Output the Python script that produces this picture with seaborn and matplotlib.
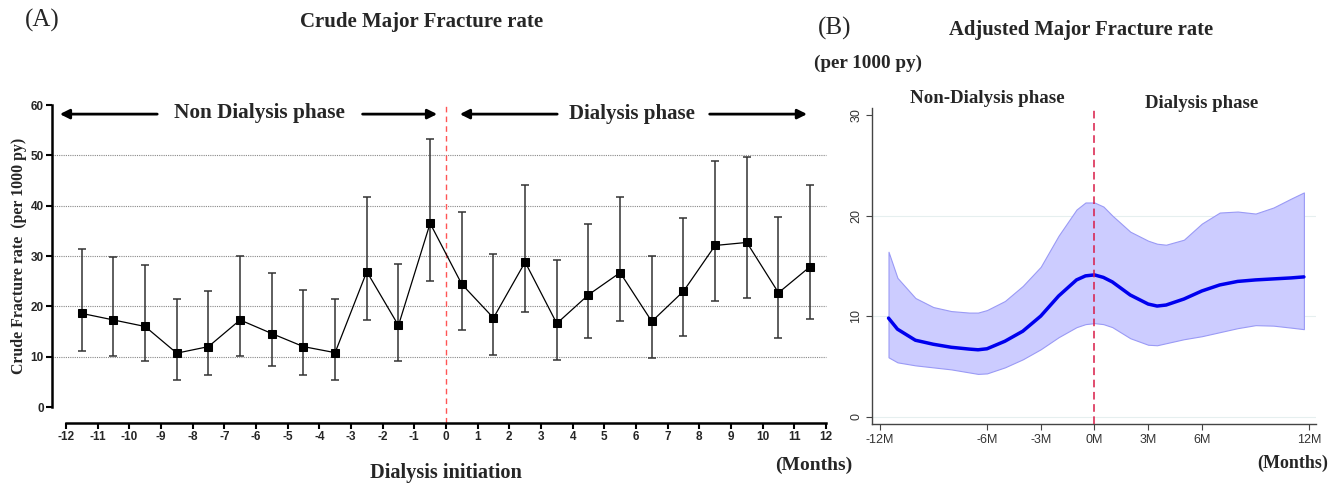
import numpy as np
import pandas as pd
import matplotlib
matplotlib.use("Agg")
import matplotlib.pyplot as plt
import seaborn as sns

# ---- data ----
# (A) crude major fracture rate, per 1000 py, one point per month
months_a = [-11.5, -10.5, -9.5, -8.5, -7.5, -6.5, -5.5, -4.5, -3.5, -2.5, -1.5, -0.5,
            0.5, 1.5, 2.5, 3.5, 4.5, 5.5, 6.5, 7.5, 8.5, 9.5, 10.5, 11.5]
crude_rate = [18.6, 17.3, 16.0, 10.7, 12.0, 17.3, 14.6, 12.0, 10.8, 26.9, 16.2, 36.5,
              24.4, 17.7, 28.8, 16.6, 22.3, 26.7, 17.0, 23.0, 32.1, 32.7, 22.7, 27.9]
crude_lo = [11.1, 10.1, 9.1, 5.4, 6.3, 10.1, 8.1, 6.3, 5.4, 17.3, 9.2, 25.0,
            15.4, 10.3, 18.8, 9.4, 13.7, 17.0, 9.7, 14.1, 21.1, 21.6, 13.7, 17.5]
crude_hi = [31.4, 29.9, 28.2, 21.4, 23.1, 30.1, 26.7, 23.3, 21.5, 41.7, 28.5, 53.2,
            38.8, 30.5, 44.2, 29.2, 36.4, 41.8, 30.1, 37.6, 48.8, 49.6, 37.8, 44.2]
ticks_a = list(range(-12, 13))
yticks_a = [0, 10, 20, 30, 40, 50, 60]

# (B) adjusted major fracture rate, smooth curve with confidence band
months_b = [-11.5, -11, -10, -9, -8, -7, -6.5, -6, -5, -4, -3, -2, -1, -0.5, 0,
            0.5, 1, 2, 3, 3.5, 4, 5, 6, 7, 8, 9, 10, 11, 11.7]
adj_rate = [9.8, 8.7, 7.6, 7.2, 6.9, 6.72, 6.65, 6.75, 7.5, 8.5, 10.0, 12.0, 13.6, 14.0, 14.1,
            13.85, 13.4, 12.1, 11.2, 11.0, 11.1, 11.7, 12.5, 13.1, 13.45, 13.6, 13.7, 13.8, 13.9]
adj_lo = [5.9, 5.4, 5.1, 4.9, 4.7, 4.4, 4.25, 4.3, 4.9, 5.7, 6.7, 7.9, 8.9, 9.2, 9.3,
          9.2, 8.9, 7.8, 7.15, 7.1, 7.3, 7.7, 8.0, 8.4, 8.8, 9.1, 9.05, 8.85, 8.7]
adj_hi = [16.4, 13.8, 11.8, 10.9, 10.5, 10.35, 10.35, 10.6, 11.5, 13.0, 14.9, 18.0, 20.6, 21.3, 21.3,
          20.9, 20.0, 18.4, 17.5, 17.2, 17.1, 17.6, 19.2, 20.3, 20.4, 20.2, 20.8, 21.7, 22.3]
ticks_b = [-12, -6, -3, 0, 3, 6, 12]
tick_labels_b = ["-12M", "-6M", "-3M", "0M", "3M", "6M", "12M"]
yticks_b = [0, 10, 20, 30]

df_a = pd.DataFrame({"month": months_a, "rate": crude_rate, "lo": crude_lo, "hi": crude_hi})
df_b = pd.DataFrame({"month": months_b, "rate": adj_rate, "lo": adj_lo, "hi": adj_hi})

sns.set_theme(style="white")
plt.rcParams["font.family"] = ["Liberation Sans", "DejaVu Sans"]
SERIF = ["Liberation Serif", "DejaVu Serif"]

fig = plt.figure(figsize=(13.33, 4.86), dpi=100)

# ---------------- panel A ----------------
ax = fig.add_axes([0.039, 0.1296, 0.5911, 0.6646])
ax.set_xlim(-12.44, 12.44)
ax.set_ylim(-3.18, 61)

ax.hlines([10, 20, 30, 40, 50], -12.44, 12, colors="#888888", linestyles=(0, (1, 1)), lw=0.8, zorder=0)
ax.errorbar(df_a["month"], df_a["rate"],
            yerr=[df_a["rate"] - df_a["lo"], df_a["hi"] - df_a["rate"]],
            fmt="none", ecolor="#333333", elinewidth=1.1, capsize=2.8, capthick=1.1, zorder=2)
sns.lineplot(data=df_a, x="month", y="rate", ax=ax, color="black", lw=0.9,
             marker="s", markersize=6, markeredgecolor="black", zorder=3)
ax.vlines(0, -3.18, 60.5, colors="#ff5555", linestyles=(0, (4, 3)), lw=1.0, zorder=1)

for s in ["top", "right"]:
    ax.spines[s].set_visible(False)
ax.spines["left"].set_bounds(0, 60)
ax.spines["bottom"].set_bounds(-12, 12)
for s in ["left", "bottom"]:
    ax.spines[s].set_linewidth(1.8)
    ax.spines[s].set_color("black")
ax.set_xticks(ticks_a)
ax.set_xticklabels([str(t) for t in ticks_a], fontweight="bold", fontsize=8.5)
ax.set_yticks(yticks_a)
ax.set_yticklabels([str(t) for t in yticks_a], fontweight="bold", fontsize=8.5)
ax.tick_params(axis="both", direction="out", length=4, width=1.5, color="black", pad=2,
               bottom=True, left=True)
ax.set_xlabel("")
ax.set_ylabel("Crude Fracture rate  (per 1000 py)", family=SERIF, fontweight="bold", fontsize=11.4)
ax.yaxis.set_label_coords(-0.032, 0.517)

# phase arrows
arrow_kw = dict(arrowstyle="-|>", color="black", lw=2, mutation_scale=14)
ax.annotate("", xy=(-12.28, 58.2), xytext=(-9.03, 58.2), arrowprops=arrow_kw, annotation_clip=False)
ax.annotate("", xy=(-0.19, 58.2), xytext=(-2.72, 58.2), arrowprops=arrow_kw, annotation_clip=False)
ax.annotate("", xy=(0.35, 58.2), xytext=(3.6, 58.2), arrowprops=arrow_kw, annotation_clip=False)
ax.annotate("", xy=(11.49, 58.2), xytext=(8.24, 58.2), arrowprops=arrow_kw, annotation_clip=False)
ax.text(-5.88, 58.4, "Non Dialysis phase", family=SERIF, fontweight="bold", fontsize=15.3,
        ha="center", va="center")
ax.text(5.87, 58.2, "Dialysis phase", family=SERIF, fontweight="bold", fontsize=15,
        ha="center", va="center")

fig.text(25 / 1333, 1 - 20 / 486, "(A)", family=SERIF, fontsize=18, ha="left", va="center")
fig.text(422 / 1333, 1 - 22 / 486, "Crude Major Fracture rate", family=SERIF, fontweight="bold",
         fontsize=15, ha="center", va="center")
fig.text(446 / 1333, 1 - 473 / 486, "Dialysis initiation", family=SERIF, fontweight="bold",
         fontsize=14.7, ha="center", va="center")
fig.text(814 / 1333, 1 - 465 / 486, "(Months)", family=SERIF, fontweight="bold",
         fontsize=14, ha="center", va="center")

# ---------------- panel B ----------------
bx = fig.add_axes([0.6542, 0.127, 0.3331, 0.6508])
bx.set_xlim(-12.42, 12.38)
bx.set_ylim(-0.76, 30.7)
for y in yticks_b[:-1]:
    bx.axhline(y, color="#e6efef", lw=0.8, zorder=0)
bx.fill_between(df_b["month"], df_b["lo"], df_b["hi"], color="#ccccff", edgecolor="#9a9af5",
                lw=0.8, zorder=1)
sns.lineplot(data=df_b, x="month", y="rate", ax=bx, color="#0000ee", lw=2.5, zorder=3)
bx.axvline(0, color="#d81b47", ls=(0, (5, 3)), lw=1.1, zorder=4)

for s in ["top", "right"]:
    bx.spines[s].set_visible(False)
for s in ["left", "bottom"]:
    bx.spines[s].set_color("#444444")
    bx.spines[s].set_linewidth(1.0)
bx.set_xticks(ticks_b)
bx.set_xticklabels(tick_labels_b, fontsize=9, color="#333333")
bx.set_yticks(yticks_b)
bx.set_yticklabels([str(t) for t in yticks_b], fontsize=9, color="#333333", rotation=90, va="center")
bx.tick_params(axis="both", direction="out", length=4, width=0.8, color="#444444", pad=3,
               bottom=True, left=True)
bx.set_xlabel("")
bx.set_ylabel("")

bx.text(-5.99, 31.6, "Non-Dialysis phase", family=SERIF, fontweight="bold", fontsize=13.6,
        ha="center", va="center")
bx.text(5.97, 31.1, "Dialysis phase", family=SERIF, fontweight="bold", fontsize=13.5,
        ha="center", va="center")

fig.text(818 / 1333, 1 - 28 / 486, "(B)", family=SERIF, fontsize=18, ha="left", va="center")
fig.text(1081 / 1333, 1 - 30 / 486, "Adjusted Major Fracture rate", family=SERIF, fontweight="bold",
         fontsize=14.9, ha="center", va="center")
fig.text(814 / 1333, 1 - 63 / 486, "(per 1000 py)", family=SERIF, fontweight="bold",
         fontsize=13.8, ha="left", va="center")
fig.text(1293 / 1333, 1 - 463 / 486, "(Months)", family=SERIF, fontweight="bold",
         fontsize=13, ha="center", va="center")

fig.savefig("out.png", dpi=100)
